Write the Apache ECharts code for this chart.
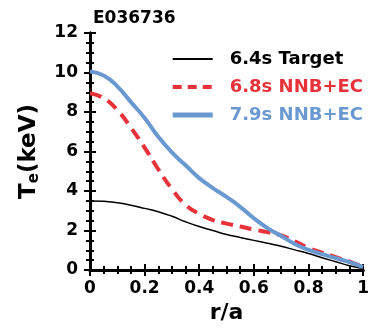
<!DOCTYPE html>
<html>
<head>
<meta charset="utf-8">
<script src="https://cdn.jsdelivr.net/npm/echarts@6/dist/echarts.min.js"></script>
<style>
  html, body { margin: 0; padding: 0; background: #fff; }
  #main { width: 372px; height: 331px; }
</style>
</head>
<body>
<div id="main"></div>
<script>
const rOverA = [0, 0.05, 0.1, 0.15, 0.2, 0.25, 0.3, 0.35, 0.4, 0.45, 0.5, 0.55, 0.6, 0.65, 0.7, 0.75, 0.8, 0.85, 0.9, 0.95, 1.0];
const te64Target = [3.5, 3.48, 3.4, 3.28, 3.12, 2.95, 2.72, 2.44, 2.2, 2.0, 1.8, 1.65, 1.5, 1.35, 1.2, 1.02, 0.84, 0.62, 0.42, 0.22, 0.08];
const te68NnbEc = [8.95, 8.7, 8.1, 7.2, 6.2, 5.1, 4.1, 3.3, 2.85, 2.53, 2.35, 2.2, 2.05, 1.92, 1.75, 1.45, 1.12, 0.88, 0.65, 0.42, 0.15];
const te79NnbEc = [10.05, 9.85, 9.3, 8.5, 7.7, 6.75, 5.95, 5.3, 4.65, 4.15, 3.7, 3.2, 2.62, 2.12, 1.72, 1.32, 1.02, 0.8, 0.6, 0.4, 0.15];
const seriesNames = ['6.4s Target', '6.8s NNB+EC', '7.9s NNB+EC'];

const font = 'DejaVu Sans';
const red = '#e8323a';
const blue = '#6a98d0';

const pairs = (ys) => rOverA.map((x, i) => [x, ys[i]]);

const myChart = echarts.init(document.getElementById('main'));

const axisCommon = {
  axisLine: { lineStyle: { color: '#000', width: 3 } },
  axisTick: { inside: true, length: 6, lineStyle: { color: '#000', width: 2 } },
  minorTick: { show: true, splitNumber: 4, length: 4, lineStyle: { color: '#000', width: 2 } },
  splitLine: { show: false }
};

const option = {
  animation: false,
  title: {
    text: 'E036736',
    left: 88,
    top: 5,
    textStyle: { fontFamily: font, fontWeight: 'bold', fontSize: 17, color: '#000' }
  },
  grid: { left: 90, right: 7, top: 33, bottom: 61 },
  legend: {
    orient: 'vertical',
    right: 4,
    top: 45,
    itemWidth: 40,
    itemHeight: 14,
    itemGap: 10,
    itemStyle: { opacity: 0 },
    data: [
      { name: seriesNames[0], textStyle: { color: '#000' } },
      { name: seriesNames[1], textStyle: { color: red }, lineStyle: { width: 4, type: [9, 6] } },
      { name: seriesNames[2], textStyle: { color: blue }, lineStyle: { width: 5 } }
    ],
    textStyle: { fontFamily: font, fontWeight: 'bold', fontSize: 18, padding: [0, 0, 0, 12] }
  },
  xAxis: [
    Object.assign({
      type: 'value', min: 0, max: 1, interval: 0.2,
      name: 'r/a', nameLocation: 'middle', nameGap: 28,
      nameTextStyle: { fontFamily: font, fontWeight: 'bold', fontSize: 22, color: '#000' },
      axisLabel: {
        fontFamily: font, fontWeight: 'bold', fontSize: 17, color: '#000', margin: 10,
        formatter: (v) => String(v)
      }
    }, axisCommon),
    Object.assign({
      type: 'value', min: 0, max: 1, interval: 0.2, position: 'top',
      axisLabel: { show: false }
    }, axisCommon)
  ],
  yAxis: [
    Object.assign({
      type: 'value', min: 0, max: 12, interval: 2,
      name: '{a|T}{b|e}{a|(keV)}', nameLocation: 'middle', nameGap: 48, nameRotate: 90,
      nameTextStyle: {
        rich: {
          a: { fontFamily: font, fontWeight: 'bold', fontSize: 23, color: '#000', lineHeight: 26 },
          b: { fontFamily: font, fontWeight: 'bold', fontSize: 15, color: '#000', verticalAlign: 'bottom', lineHeight: 16 }
        }
      },
      axisLabel: { fontFamily: font, fontWeight: 'bold', fontSize: 17, color: '#000', margin: 12 }
    }, axisCommon),
    Object.assign({
      type: 'value', min: 0, max: 12, interval: 2, position: 'right',
      axisLabel: { show: false }
    }, axisCommon)
  ],
  series: [
    {
      name: seriesNames[0], type: 'line', smooth: true, symbol: 'none',
      data: pairs(te64Target),
      lineStyle: { color: '#000', width: 1.5 }, itemStyle: { color: '#000' }, z: 3
    },
    {
      name: seriesNames[1], type: 'line', smooth: true, symbol: 'none',
      data: pairs(te68NnbEc),
      lineStyle: { color: red, width: 4, type: [12, 7] }, itemStyle: { color: red }, z: 2
    },
    {
      name: seriesNames[2], type: 'line', smooth: true, symbol: 'none',
      data: pairs(te79NnbEc),
      lineStyle: { color: blue, width: 4 }, itemStyle: { color: blue }, z: 4
    }
  ]
};

myChart.setOption(option);
</script>
</body>
</html>
